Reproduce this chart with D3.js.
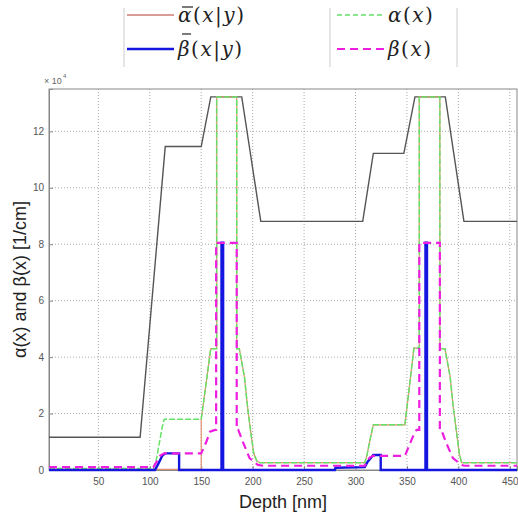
<!DOCTYPE html>
<html>
<head>
<meta charset="UTF-8" />
<script src="https://d3js.org/d3.v7.min.js"></script>
<style>
  body { margin: 0; background: #fff; }
  svg { display: block; font-family: "Liberation Sans", Arial, sans-serif; }
  .tick text { fill: #555; font-size: 10px; }
  .math { font-family: "DejaVu Serif", serif; font-size: 20px; fill: #222; }
</style>
</head>
<body>
<svg width="518" height="516"></svg>
<script>
  // depth in nm, values in units of 1e4 1/cm
  const xTicks = [50, 100, 150, 200, 250, 300, 350, 400, 450];
  const yTicks = [0, 2, 4, 6, 8, 10, 12];

  // black reference curve (no legend entry)
  const blackDepth = [2, 90.6, 115, 150, 159.3, 189.4, 207.9, 307, 317.3, 347, 357.8, 387.3, 405.4, 457];
  const blackVal   = [1.16, 1.16, 11.46, 11.46, 13.22, 13.22, 8.81, 8.81, 11.22, 11.22, 13.22, 13.22, 8.81, 8.81];

  // alpha(x)
  const alphaDepth = [2, 103.5, 106, 109, 112, 114, 150, 159.3, 165, 165, 184.5, 184.5, 187, 192, 195, 198.3, 201, 204, 207,
                      309, 311, 314, 317.3, 348, 356.8, 362, 362, 382, 382, 387, 392, 395, 398.3, 400.9, 403.2, 457];
  const alphaVal   = [0.05, 0.05, 0.3, 0.9, 1.5, 1.8, 1.8, 4.3, 4.3, 13.22, 13.22, 4.3, 4.3, 3.3, 2.25, 1.3, 0.6, 0.32, 0.26,
                      0.26, 0.5, 1.05, 1.6, 1.6, 4.32, 4.32, 13.22, 13.22, 4.3, 4.3, 3.3, 2.24, 1.31, 0.59, 0.26, 0.26];

  // alpha-bar(x|y)
  const alphaBarDepth = [2, 150, 150, 159.3, 165, 165, 184.5, 184.5, 187, 192, 195, 198.3, 201, 204, 207,
                         309, 311, 314, 317.3, 348, 356.8, 362, 362, 382, 382, 387, 392, 395, 398.3, 400.9, 403.2, 457];
  const alphaBarVal   = [0.02, 0.02, 1.8, 4.3, 4.3, 13.22, 13.22, 4.3, 4.3, 3.3, 2.25, 1.3, 0.6, 0.32, 0.26,
                         0.26, 0.5, 1.05, 1.6, 1.6, 4.32, 4.32, 13.22, 13.22, 4.3, 4.3, 3.3, 2.24, 1.31, 0.59, 0.26, 0.26];

  // beta(x)
  const betaDepth = [2, 103.5, 106, 110, 114, 150, 155, 158.6, 163.5, 164.5, 164.5, 184.5, 184.5, 186, 191, 197, 205, 210,
                     309, 311, 314, 317.3, 348, 352, 356, 359.4, 362, 362, 382, 382, 383.5, 388.3, 394.7, 402.9, 406, 457];
  const betaVal   = [0.1, 0.1, 0.25, 0.5, 0.59, 0.59, 1.0, 1.36, 1.42, 1.42, 8.05, 8.05, 1.42, 1.42, 0.95, 0.42, 0.18, 0.15,
                     0.15, 0.3, 0.45, 0.5, 0.5, 0.85, 1.2, 1.42, 1.42, 8.05, 8.05, 1.42, 1.42, 0.95, 0.42, 0.18, 0.15, 0.15];

  // beta-bar(x|y)
  const betaBarDepth = [2, 105, 108, 112, 115, 128.5, 128.5, 169.7, 169.7, 171.3, 171.3, 280, 280.5, 309, 312, 317.3, 324.5, 324.5,
                        368, 368, 369.5, 369.5, 457];
  const betaBarVal   = [0, 0, 0.2, 0.5, 0.59, 0.59, 0, 0, 8.05, 8.05, 0, 0, 0.08, 0.1, 0.3, 0.53, 0.53, 0,
                        0, 8.05, 8.05, 0, 0];

  const svg = d3.select("svg");
  const mLeft = 49, mRight = 517, mTop = 89, mBottom = 470;

  const x = d3.scaleLinear().domain([2, 457]).range([mLeft, mRight]);
  const y = d3.scaleLinear().domain([0, 13.5]).range([mBottom, mTop]);

  // grid
  svg.append("g").selectAll("line").data(xTicks).join("line")
    .attr("x1", d => x(d)).attr("x2", d => x(d)).attr("y1", mTop).attr("y2", mBottom)
    .attr("stroke", "#aaa").attr("stroke-dasharray", "1,2");
  svg.append("g").selectAll("line").data(yTicks.filter(d => d > 0)).join("line")
    .attr("x1", mLeft).attr("x2", mRight).attr("y1", d => y(d)).attr("y2", d => y(d))
    .attr("stroke", "#aaa").attr("stroke-dasharray", "1,2");

  // axes
  const xAxis = svg.append("g").attr("transform", `translate(0,${mBottom})`)
    .call(d3.axisBottom(x).tickValues(xTicks).tickSize(-4).tickPadding(8));
  const yAxis = svg.append("g").attr("transform", `translate(${mLeft},0)`)
    .call(d3.axisLeft(y).tickValues(yTicks).tickSize(-4).tickPadding(5));
  [xAxis, yAxis].forEach(a => {
    a.select(".domain").attr("stroke", "#888");
    a.selectAll(".tick line").attr("stroke", "#888");
  });
  svg.append("rect").attr("x", mLeft).attr("y", mTop).attr("width", mRight - mLeft).attr("height", mBottom - mTop)
    .attr("fill", "none").attr("stroke", "#888");

  const line = d3.line().x(d => x(d[0])).y(d => y(d[1]));
  const pts = (xs, vs) => xs.map((d, i) => [d, vs[i]]);

  svg.append("path").attr("d", line(pts(blackDepth, blackVal)))
    .attr("fill", "none").attr("stroke", "#555").attr("stroke-width", 1.4);
  svg.append("path").attr("d", line(pts(alphaBarDepth, alphaBarVal)))
    .attr("fill", "none").attr("stroke", "#e09070").attr("stroke-width", 1.2);
  svg.append("path").attr("d", line(pts(alphaDepth, alphaVal)))
    .attr("fill", "none").attr("stroke", "#66e066").attr("stroke-width", 1.5).attr("stroke-dasharray", "6,2");
  svg.append("path").attr("d", line(pts(betaBarDepth, betaBarVal)))
    .attr("fill", "none").attr("stroke", "#1515e0").attr("stroke-width", 2.4);
  svg.append("path").attr("d", line(pts(betaDepth, betaVal)))
    .attr("fill", "none").attr("stroke", "#ee1ee0").attr("stroke-width", 2.2).attr("stroke-dasharray", "8,5");

  // exponent label
  svg.append("text").attr("x", 44).attr("y", 84).attr("fill", "#666").attr("font-size", 9).text("× 10");
  svg.append("text").attr("x", 63).attr("y", 78).attr("fill", "#666").attr("font-size", 6).text("4");

  // axis titles
  svg.append("text").attr("x", (mLeft + mRight) / 2).attr("y", 508).attr("text-anchor", "middle")
    .attr("font-size", 18).attr("fill", "#222").text("Depth [nm]");
  svg.append("text").attr("transform", `translate(26,${(mTop + mBottom) / 2}) rotate(-90)`)
    .attr("text-anchor", "middle").attr("font-size", 18).attr("fill", "#222").text("α(x) and β(x) [1/cm]");

  // legend
  const legend = svg.append("g");
  [[124, 8, 67], [330, 8, 67], [457, 8, 67]].forEach(d =>
    legend.append("line").attr("x1", d[0]).attr("x2", d[0]).attr("y1", d[1]).attr("y2", d[2]).attr("stroke", "#ccc"));

  // parts: [text, italic, bar offset above the entry line]
  const entries = [
    { x: 127, y: 15, color: "#cf7a74", dash: null, w: 1.6, parts: [["α", 1, 8], ["(", 0], ["x", 1], ["|", 0], ["y", 1], [")", 0]] },
    { x: 127, y: 49, color: "#1515e0", dash: null, w: 2.4, parts: [["β", 1, 15], ["(", 0], ["x", 1], ["|", 0], ["y", 1], [")", 0]] },
    { x: 337, y: 15, color: "#66e066", dash: "5,3", w: 1.3, parts: [["α", 1], ["(", 0], ["x", 1], [")", 0]] },
    { x: 337, y: 49, color: "#ee1ee0", dash: "8,5", w: 2.2, parts: [["β", 1], ["(", 0], ["x", 1], [")", 0]] }
  ];
  entries.forEach(e => {
    legend.append("line").attr("x1", e.x).attr("x2", e.x + 47).attr("y1", e.y).attr("y2", e.y)
      .attr("stroke", e.color).attr("stroke-width", e.w).attr("stroke-dasharray", e.dash);
    const t = legend.append("text").attr("class", "math").attr("x", e.x + 51).attr("y", e.y + 7)
      .attr("letter-spacing", 1.5);
    e.parts.forEach(p => {
      const s = t.append("tspan").attr("font-style", p[1] ? "italic" : "normal").text(p[0]);
      if (p[2]) {
        // bar accent over the symbol
        const ext = s.node().getExtentOfChar(0);
        legend.append("line")
          .attr("x1", ext.x + 4).attr("x2", ext.x + ext.width)
          .attr("y1", e.y - p[2]).attr("y2", e.y - p[2])
          .attr("stroke", "#222").attr("stroke-width", 1.2);
      }
    });
  });
</script>
</body>
</html>
